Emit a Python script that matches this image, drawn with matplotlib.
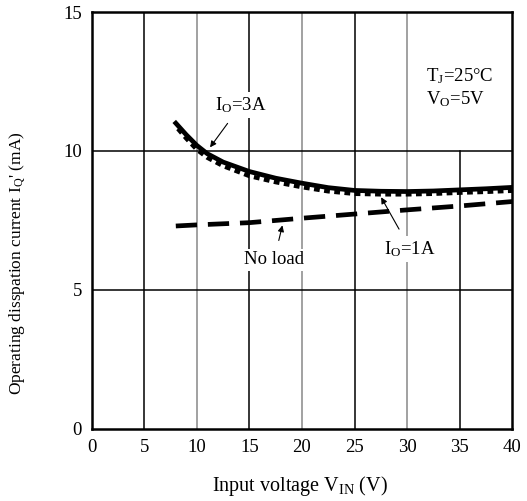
import matplotlib
matplotlib.use("Agg")
import matplotlib.pyplot as plt

plt.rcParams["font.family"] = ["Liberation Serif", "DejaVu Serif"]
plt.rcParams["mathtext.fontset"] = "custom"
plt.rcParams["mathtext.rm"] = "Liberation Serif"
plt.rcParams["mathtext.it"] = "Liberation Serif"

# data
vin_3a = [8.0, 9, 10, 11, 12.5, 15, 17.5, 20, 22.5, 25, 27.5, 30, 32.5, 35, 37.5, 40]
iq_3a = [11.0, 10.58, 10.2, 9.9, 9.6, 9.26, 9.02, 8.84, 8.68, 8.58, 8.55, 8.54, 8.56, 8.6, 8.64, 8.69]

vin_1a = [8.2, 9, 10, 11, 12.5, 15, 17.5, 20, 22.5, 25, 27.5, 30, 32.5, 35, 37.5, 40]
iq_1a = [10.8, 10.45, 10.05, 9.76, 9.46, 9.1, 8.88, 8.7, 8.55, 8.46, 8.44, 8.44, 8.46, 8.5, 8.53, 8.57]

vin_noload = [8.0, 10, 15, 20, 25, 30, 35, 40]
iq_noload = [7.3, 7.34, 7.42, 7.58, 7.73, 7.88, 8.02, 8.18]

xticks = [0, 5, 10, 15, 20, 25, 30, 35, 40]
yticks = [0, 5, 10, 15]


def main():
    fig = plt.figure(figsize=(5.27, 5.01), dpi=100)
    ax = fig.add_axes([0.174, 0.144, 0.798, 0.832])

    ax.set_xlim(0, 40)
    ax.set_ylim(0, 15)
    ax.set_xticks(xticks)
    ax.set_yticks(yticks)
    ax.tick_params(length=0, labelsize=13.5, pad=7)

    # grid lines, alternate black / gray like the datasheet
    for x in xticks[1:-1]:
        col = "#888888" if x % 10 == 0 else "black"
        top = 10 / 15 if x == 35 else 1
        ax.axvline(x, ymax=top, color=col, lw=1.1, zorder=0)
    for y in [5, 10]:
        ax.axhline(y, color="black", lw=1.1, zorder=0)

    for s in ax.spines.values():
        s.set_linewidth(1.8)

    # curves
    ax.plot(vin_1a, iq_1a, color="black", lw=3.2, dashes=(1.3, 1.0), zorder=3)
    ax.plot(vin_3a, iq_3a, color="black", lw=3.4, zorder=4)
    ax.plot(vin_noload, iq_noload, color="black", lw=3.4, dashes=(4.5, 2.3), zorder=3)

    # annotations
    box = dict(boxstyle="square,pad=0.15", fc="white", ec="none")
    arrow = dict(arrowstyle="-|>", color="black", lw=0.8, mutation_scale=9)
    ax.annotate("I$_{\\mathrm{O}}$=3A", xy=(11.1, 10.05), xytext=(14.2, 11.65),
                ha="center", va="center", fontsize=13.5, bbox=box,
                arrowprops=dict(arrow, shrinkA=5))
    ax.annotate("No load", xy=(18.2, 7.42), xytext=(17.35, 6.08),
                ha="center", va="center", fontsize=13.5, bbox=box,
                arrowprops=dict(arrow, shrinkA=6))
    ax.annotate("I$_{\\mathrm{O}}$=1A", xy=(27.4, 8.42), xytext=(30.3, 6.47),
                ha="center", va="center", fontsize=13.5, bbox=box,
                arrowprops=dict(arrow, shrinkA=6))

    ax.text(31.8, 12.7, "T$_{\\mathrm{J}}$=25°C", fontsize=13.5, va="center", ha="left")
    ax.text(31.8, 11.85, "V$_{\\mathrm{O}}$=5V", fontsize=13.5, va="center", ha="left")

    fig.text(300 / 527, 1 - 486 / 501, "Input voltage V$_{\\mathrm{IN}}$ (V)",
             ha="center", va="center", fontsize=14.5)
    fig.text(18 / 527, 1 - 263 / 501, "Operating disspation current I$_{\\mathrm{Q}}$' (mA)",
             ha="center", va="center", rotation=90, fontsize=12.5)

    fig.savefig("out.png", dpi=100)


if __name__ == "__main__":
    main()
